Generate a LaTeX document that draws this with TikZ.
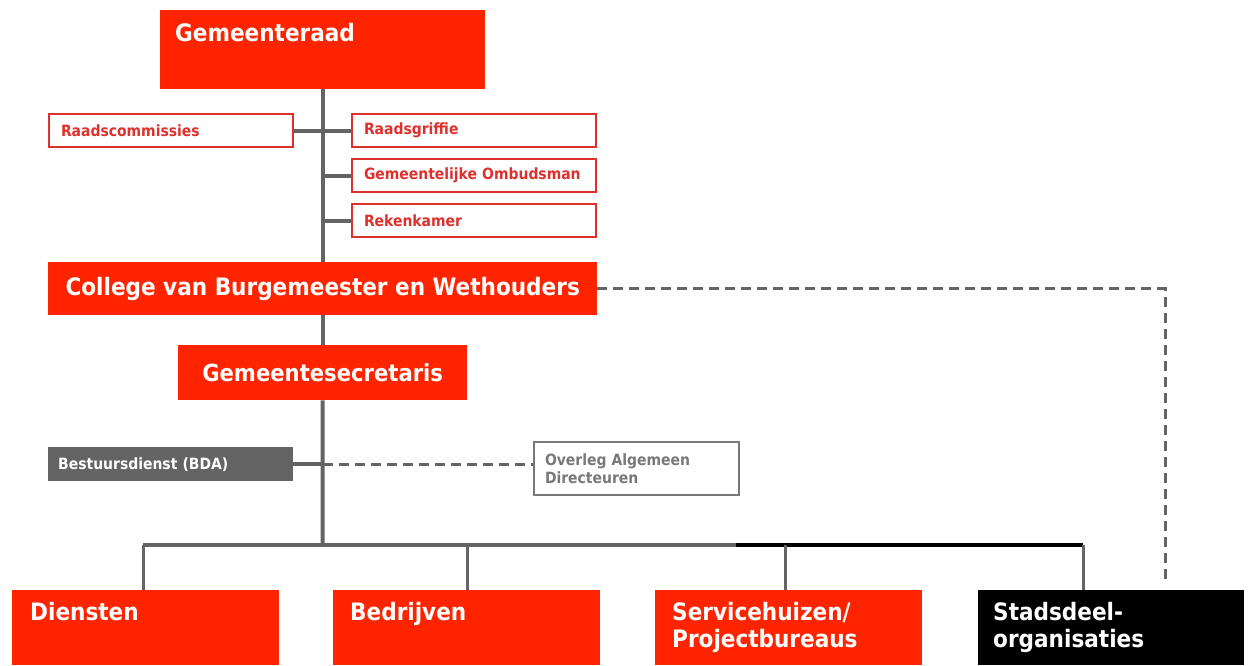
\documentclass[tikz,border=0pt]{standalone}
\usepackage{fontspec}
\setmainfont{DejaVu Sans Condensed}
\definecolor{orgred}{RGB}{255,36,0}
\definecolor{linered}{RGB}{222,48,44}
\definecolor{orggray}{RGB}{100,100,100}
\definecolor{softgray}{RGB}{120,120,120}

\begin{document}
\begin{tikzpicture}[x=1pt,y=-1pt,
	bigbox/.style={fill=orgred, text=white, font=\bfseries\fontsize{24}{27}\selectfont, inner sep=0pt, anchor=north west},
	topbox/.style 2 args={bigbox, align=left, inner xsep=#1, text width=#2, text height=30pt, text depth=45pt},
	smallbox/.style={draw=linered, line width=2pt, text=linered, font=\bfseries\fontsize{15.5}{18}\selectfont, anchor=north west, align=left, inner xsep=12pt, inner ysep=0pt, text width=220pt, minimum height=33pt},
	conn/.style={draw=orggray, line width=4pt},
	drop/.style={draw=orggray, line width=3pt},
	dashconn/.style={draw=orggray, line width=3pt, dash pattern=on 10pt off 6pt}]
	\useasboundingbox (0,0) rectangle (1250,665);

	\node[bigbox, align=left, inner xsep=15pt, text width=295pt, text height=31pt, text depth=48pt] (raad) at (160,10) {Gemeenteraad};

	\node[smallbox] (commissies) at (48,113) {Raadscommissies};
	\node[smallbox] (griffie) at (351,113) {Raadsgriffie};
	\node[smallbox] (ombudsman) at (351,158) {Gemeentelijke Ombudsman};
	\node[smallbox] (rekenkamer) at (351,203) {Rekenkamer};

	\node[bigbox, minimum width=549pt, minimum height=53pt] (college) at (48,262) {College van Burgemeester en Wethouders};
	\node[bigbox, font=\bfseries\fontsize{23.5}{26}\selectfont, minimum width=289pt, minimum height=55pt] (secretaris) at (178,345) {Gemeentesecretaris};

	\node[fill=orggray, text=white, font=\bfseries\fontsize{15.5}{18}\selectfont, anchor=north west, align=left, inner xsep=10pt, inner ysep=0pt, text width=225pt, minimum height=34pt] (bda) at (48,447) {Bestuursdienst (BDA)};
	\node[draw=softgray, line width=2pt, text=softgray, font=\bfseries\fontsize{15.5}{18}\selectfont, anchor=north west, align=left, inner xsep=11pt, inner ysep=0pt, text width=183pt, minimum height=53pt] (overleg) at (533,441) {Overleg Algemeen\\Directeuren};

	\node[topbox={18pt}{231pt}] (diensten) at (12,590) {Diensten};
	\node[topbox={17pt}{233pt}] (bedrijven) at (333,590) {Bedrijven};
	\node[topbox={17pt}{233pt}] (servicehuizen) at (655,590) {Servicehuizen/\\Projectbureaus};
	\node[topbox={15pt}{236pt}, fill=black] (stadsdeel) at (978,590) {Stadsdeel-\\organisaties};

	% trunk
	\draw[conn] (raad.south) -- (raad.south |- college.north);
	\draw[conn] (college.south) -- (secretaris.north);
	\coordinate (bus) at (322.5,545);
	\draw[conn] (secretaris.south) -- (bus);

	\draw[conn] (commissies.east) -- (griffie.west);
	\draw[conn] (ombudsman.west) -- (ombudsman.west -| raad.south);
	\draw[conn] (rekenkamer.west) -- (rekenkamer.west -| raad.south);

	\draw[conn] (bda.east) -- (bda.east -| secretaris.south);
	\draw[dashconn] (bda.east -| secretaris.south) -- (bda.east -| overleg.west);

	% bus to the bottom row
	\coordinate (busleft) at (143,545);
	\coordinate (bustwo) at (467,545);
	\coordinate (busmid) at (736,545);
	\coordinate (busthree) at (785,545);
	\coordinate (busright) at (1083,545);
	\draw[conn] (busleft) -- (busmid);
	\draw[conn, draw=black] (busmid) -- (busright);
	\draw[drop] (busleft) -- (busleft |- diensten.north);
	\draw[drop] (bustwo) -- (bustwo |- bedrijven.north);
	\draw[drop] (busthree) -- (busthree |- servicehuizen.north);
	\draw[drop] (busright) -- (busright |- stadsdeel.north);

	\coordinate (dashend) at (1165,582);
	\draw[dashconn] (college.east) -| (dashend);
\end{tikzpicture}
\end{document}
